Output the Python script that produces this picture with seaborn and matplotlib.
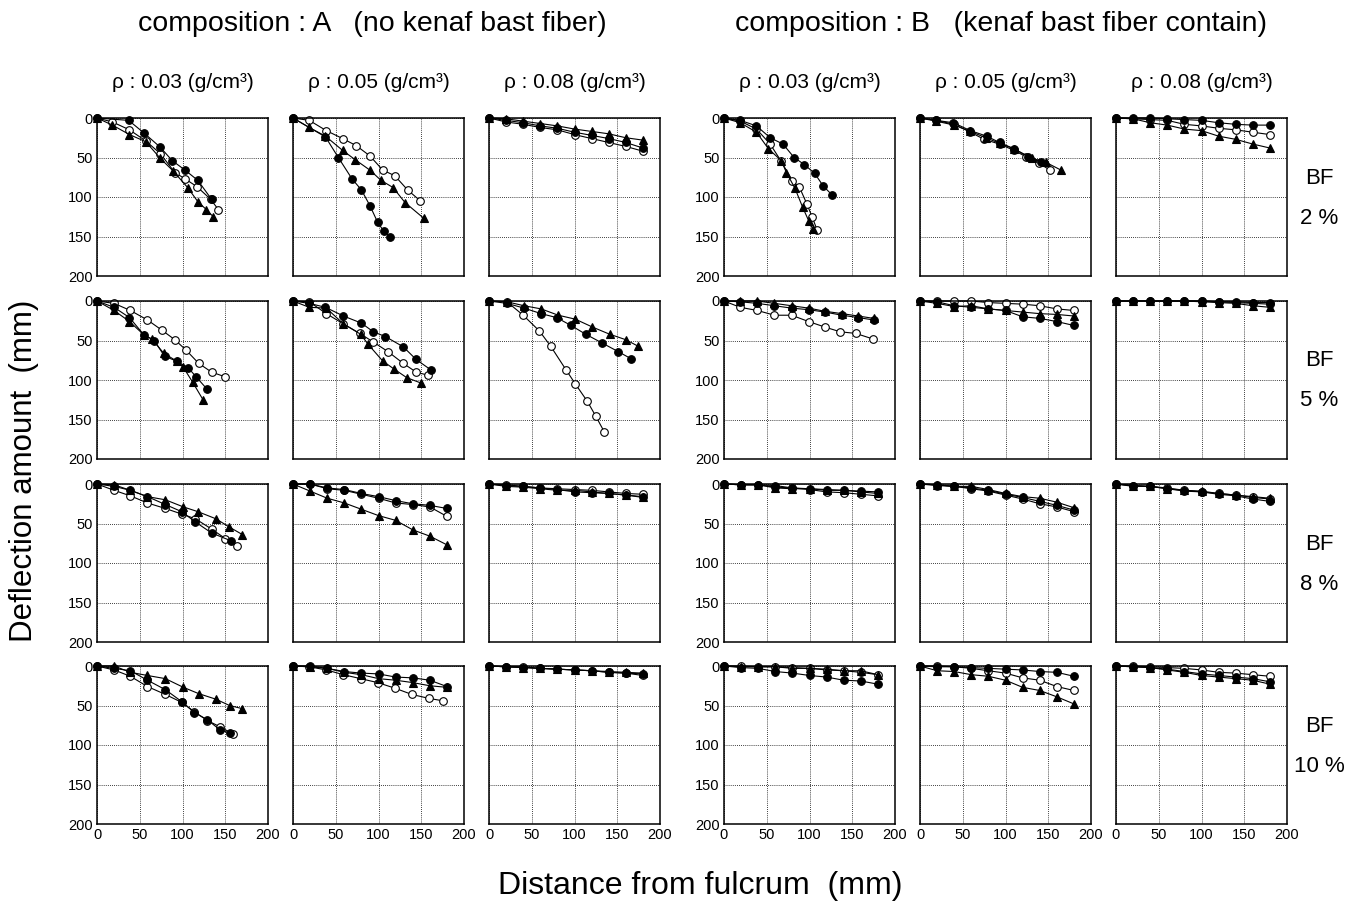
import numpy as np
import pandas as pd
import seaborn as sns
import matplotlib
matplotlib.use("Agg")
import matplotlib.pyplot as plt

# x positions used by most of the panels (mm from fulcrum)
x20 = [0, 20, 40, 60, 80, 100, 120, 140, 160, 180]

compositions = ["A", "B"]
densities = ["0.03", "0.05", "0.08"]
bf_levels = ["2 %", "5 %", "8 %", "10 %"]

# each panel: series -> (x, deflection)
A03_BF2 = {
    "open": ([0, 18, 38, 57, 74, 91, 103, 117, 133, 142], [0, 5, 15, 29, 45, 69, 77, 87, 103, 116]),
    "tri": ([0, 18, 38, 57, 74, 89, 106, 118, 128, 136], [0, 9, 21, 30, 51, 67, 88, 106, 116, 125]),
    "filled": ([0, 37, 55, 74, 88, 103, 118, 134], [0, 3, 19, 37, 54, 66, 79, 103]),
}
A05_BF2 = {
    "open": ([0, 19, 39, 58, 74, 90, 105, 119, 134, 149], [0, 3, 16, 26, 35, 48, 66, 73, 91, 105]),
    "tri": ([0, 19, 38, 58, 73, 90, 103, 117, 131, 153], [0, 12, 23, 41, 53, 66, 79, 88, 107, 127]),
    "filled": ([0, 38, 53, 69, 80, 90, 99, 106, 114], [0, 24, 50, 77, 91, 111, 132, 143, 151]),
}
A08_BF2 = {
    "open": (x20, [0, 5, 8, 12, 15, 21, 26, 31, 36, 42]),
    "tri": (x20, [0, 1, 4, 7, 10, 14, 17, 20, 25, 28]),
    "filled": (x20, [0, 3, 6, 10, 13, 18, 22, 26, 31, 38]),
}
B03_BF2 = {
    "open": ([0, 19, 38, 54, 67, 80, 88, 97, 103, 109], [0, 4, 14, 33, 55, 80, 87, 109, 125, 142]),
    "tri": ([0, 19, 38, 52, 67, 73, 83, 92, 99, 104], [0, 6, 18, 39, 54, 69, 89, 113, 130, 141]),
    "filled": ([0, 19, 38, 54, 69, 82, 94, 106, 116, 126], [0, 3, 10, 25, 33, 50, 59, 70, 86, 97]),
}
B05_BF2 = {
    "open": ([0, 19, 40, 59, 75, 93, 110, 124, 139, 152], [0, 3, 8, 18, 27, 33, 41, 49, 57, 66]),
    "tri": ([0, 19, 40, 59, 77, 93, 110, 131, 147, 165], [0, 4, 9, 17, 25, 32, 39, 51, 56, 66]),
    "filled": ([0, 19, 39, 59, 78, 93, 110, 126, 141], [0, 3, 6, 16, 23, 31, 39, 49, 56]),
}
B08_BF2 = {
    "open": (x20, [0, 1, 2, 3, 8, 10, 13, 15, 18, 21]),
    "tri": (x20, [0, 1, 6, 9, 14, 16, 23, 27, 33, 38]),
    "filled": (x20, [0, 0, 0, 1, 2, 3, 6, 8, 9, 9]),
}

A03_BF5 = {
    "open": ([0, 20, 39, 59, 76, 91, 104, 119, 134, 150], [0, 3, 12, 24, 37, 49, 62, 79, 90, 96]),
    "tri": ([0, 20, 38, 55, 64, 78, 93, 101, 112, 124], [0, 12, 26, 43, 48, 66, 76, 84, 103, 125]),
    "filled": ([0, 20, 38, 55, 67, 79, 93, 107, 116, 129], [0, 8, 21, 43, 50, 70, 76, 85, 96, 112]),
}
A05_BF5 = {
    "open": ([0, 19, 39, 59, 78, 94, 111, 129, 144, 158], [0, 1, 16, 29, 41, 52, 64, 79, 90, 94]),
    "tri": ([0, 19, 39, 59, 79, 88, 105, 118, 133, 150], [0, 8, 9, 29, 42, 55, 76, 86, 97, 104]),
    "filled": ([0, 19, 38, 59, 80, 94, 108, 129, 144, 161], [0, 3, 8, 19, 28, 39, 45, 58, 74, 87]),
}
A08_BF5 = {
    "open": ([0, 21, 40, 59, 72, 90, 101, 115, 125, 135], [0, 1, 18, 38, 57, 87, 105, 127, 146, 166]),
    "tri": ([0, 21, 41, 61, 81, 101, 121, 141, 160, 174], [0, 1, 6, 10, 18, 23, 33, 42, 49, 57]),
    "filled": ([0, 21, 41, 61, 79, 96, 113, 132, 151, 166], [0, 3, 9, 16, 21, 31, 42, 53, 64, 73]),
}
B03_BF5 = {
    "open": ([0, 19, 39, 59, 79, 99, 118, 136, 154, 174], [0, 8, 12, 18, 18, 26, 33, 39, 41, 48]),
    "tri": ([0, 19, 39, 59, 79, 99, 118, 138, 157, 175], [0, 0, 0, 3, 6, 9, 13, 16, 19, 22]),
    "filled": ([0, 19, 39, 59, 79, 99, 118, 138, 157, 175], [0, 1, 3, 6, 9, 11, 14, 18, 21, 24]),
}
B05_BF5 = {
    "open": (x20, [0, 0, 0, 0, 2, 3, 4, 6, 10, 12]),
    "tri": (x20, [0, 3, 7, 6, 10, 12, 14, 16, 17, 19]),
    "filled": (x20, [0, 1, 6, 8, 10, 12, 20, 22, 26, 31]),
}
B08_BF5 = {
    "open": (x20, [0, 0, 0, 0, 0, 0, 1, 2, 3, 4]),
    "tri": (x20, [0, 0, 0, 0, 0, 1, 2, 3, 6, 8]),
    "filled": (x20, [0, 0, 0, 0, 0, 0, 1, 1, 2, 2]),
}

A03_BF8 = {
    "open": ([0, 20, 39, 59, 80, 99, 115, 134, 150, 164], [0, 8, 15, 24, 31, 38, 44, 57, 69, 79]),
    "tri": ([0, 20, 39, 59, 80, 101, 118, 139, 154, 170], [0, 1, 8, 16, 20, 29, 35, 44, 54, 64]),
    "filled": ([0, 20, 39, 59, 80, 99, 115, 134, 157], [0, 3, 8, 16, 26, 35, 48, 62, 72]),
}
A05_BF8 = {
    "open": (x20, [0, 0, 6, 8, 13, 18, 24, 26, 29, 41]),
    "tri": (x20, [0, 9, 18, 24, 32, 40, 46, 58, 66, 77]),
    "filled": (x20, [0, 0, 5, 7, 12, 16, 21, 25, 27, 31]),
}
A08_BF8 = {
    "open": (x20, [0, 1, 3, 5, 6, 7, 8, 10, 12, 13]),
    "tri": (x20, [0, 3, 4, 6, 8, 8, 10, 12, 14, 16]),
    "filled": (x20, [0, 2, 3, 5, 7, 10, 11, 12, 14, 17]),
}
B03_BF8 = {
    "open": (x20, [0, 1, 1, 4, 5, 7, 10, 11, 13, 15]),
    "tri": (x20, [0, 1, 1, 5, 6, 6, 7, 8, 10, 12]),
    "filled": (x20, [0, 1, 1, 2, 5, 6, 8, 8, 9, 10]),
}
B05_BF8 = {
    "open": (x20, [0, 2, 3, 6, 9, 14, 19, 25, 29, 35]),
    "tri": (x20, [0, 1, 3, 3, 7, 12, 16, 18, 23, 30]),
    "filled": (x20, [0, 1, 3, 5, 8, 13, 17, 22, 27, 33]),
}
B08_BF8 = {
    "open": (x20, [0, 2, 3, 5, 8, 10, 12, 14, 17, 19]),
    "tri": (x20, [0, 3, 3, 6, 8, 9, 12, 14, 16, 18]),
    "filled": (x20, [0, 2, 3, 6, 9, 10, 13, 15, 19, 22]),
}

A03_BF10 = {
    "open": ([0, 20, 39, 59, 80, 99, 114, 129, 144, 159], [0, 5, 13, 26, 36, 46, 58, 69, 77, 86]),
    "tri": ([0, 20, 39, 59, 80, 101, 119, 139, 155, 170], [0, 0, 8, 12, 16, 27, 35, 42, 50, 54]),
    "filled": ([0, 20, 39, 59, 80, 99, 114, 129, 144, 156], [0, 3, 6, 18, 30, 45, 59, 68, 81, 85]),
}
A05_BF10 = {
    "open": ([0, 19, 39, 59, 79, 99, 119, 139, 159, 175], [0, 1, 5, 11, 16, 21, 28, 36, 41, 44]),
    "tri": (x20, [0, 1, 3, 8, 11, 16, 18, 21, 25, 27]),
    "filled": (x20, [0, 0, 3, 7, 9, 10, 14, 15, 18, 26]),
}
A08_BF10 = {
    "open": (x20, [0, 1, 1, 3, 4, 5, 6, 8, 9, 12]),
    "tri": (x20, [0, 1, 2, 3, 4, 5, 6, 7, 8, 9]),
    "filled": (x20, [0, 1, 2, 3, 4, 5, 6, 8, 9, 10]),
}
B03_BF10 = {
    "open": (x20, [0, 0, 1, 1, 2, 3, 5, 6, 8, 11]),
    "tri": (x20, [0, 1, 1, 1, 3, 3, 4, 6, 6, 11]),
    "filled": (x20, [0, 2, 3, 7, 9, 12, 14, 18, 19, 23]),
}
B05_BF10 = {
    "open": (x20, [0, 0, 1, 3, 6, 9, 15, 18, 26, 31]),
    "tri": (x20, [0, 6, 7, 11, 13, 18, 27, 31, 39, 48]),
    "filled": (x20, [0, 1, 1, 2, 3, 4, 5, 7, 8, 13]),
}
B08_BF10 = {
    "open": (x20, [0, 0, 1, 2, 3, 5, 8, 9, 11, 13]),
    "tri": (x20, [0, 1, 2, 5, 8, 12, 14, 16, 18, 23]),
    "filled": (x20, [0, 1, 2, 4, 7, 10, 12, 14, 16, 20]),
}

panels = [
    [A03_BF2, A05_BF2, A08_BF2, B03_BF2, B05_BF2, B08_BF2],
    [A03_BF5, A05_BF5, A08_BF5, B03_BF5, B05_BF5, B08_BF5],
    [A03_BF8, A05_BF8, A08_BF8, B03_BF8, B05_BF8, B08_BF8],
    [A03_BF10, A05_BF10, A08_BF10, B03_BF10, B05_BF10, B08_BF10],
]

marker_styles = {
    "open": dict(marker="o", markerfacecolor="white"),
    "tri": dict(marker="^", markerfacecolor="black"),
    "filled": dict(marker="o", markerfacecolor="black"),
}

sns.set_theme(style="white")
plt.rcParams["font.family"] = ["Liberation Sans", "DejaVu Sans"]
plt.rcParams["text.color"] = "black"
plt.rcParams["xtick.color"] = "black"
plt.rcParams["ytick.color"] = "black"

W, H = 1365, 915
fig = plt.figure(figsize=(W / 100, H / 100), dpi=100)

col_left = [97, 293, 489, 724, 920, 1116]
row_top = [118, 301, 484, 666]
ax_w, ax_h = 171, 158

for r in range(4):
    for c in range(6):
        ax = fig.add_axes([col_left[c] / W, 1 - (row_top[r] + ax_h) / H, ax_w / W, ax_h / H])
        for name in ["open", "tri", "filled"]:
            xs, ys = panels[r][c][name]
            df = pd.DataFrame({"x": xs, "y": ys})
            sns.lineplot(data=df, x="x", y="y", ax=ax, color="black", linewidth=0.8,
                         markersize=5.5, markeredgecolor="black", markeredgewidth=0.8,
                         sort=False, estimator=None, clip_on=False, **marker_styles[name])
        ax.set_xlim(0, 200)
        ax.set_ylim(200, 0)
        ax.set_xticks([0, 50, 100, 150, 200])
        ax.set_yticks([0, 50, 100, 150, 200])
        ax.grid(True, linestyle=(0, (1, 1.5)), color="black", linewidth=0.6)
        ax.tick_params(length=0, labelsize=10.5, pad=3)
        for s in ax.spines.values():
            s.set_color("black")
            s.set_linewidth(1.1)
        ax.set_xlabel("")
        ax.set_ylabel("")
        if r < 3:
            ax.set_xticklabels([])
        if c not in (0, 3):
            ax.set_yticklabels([])
        if r == 0:
            ax.text(0.5, 1 + 35 / ax_h, "\u03c1 : " + densities[c % 3] + " (g/cm\u00b3)",
                    transform=ax.transAxes, ha="center", va="center", fontsize=15)
    yc = row_top[r] + ax_h / 2
    fig.text(1319 / W, 1 - (yc - 19) / H, "BF", ha="center", va="center", fontsize=16)
    fig.text(1319 / W, 1 - (yc + 21) / H, bf_levels[r], ha="center", va="center", fontsize=16)

fig.text(372 / W, 1 - 24 / H, "composition : A   (no kenaf bast fiber)",
         ha="center", va="center", fontsize=20.5)
fig.text(1001 / W, 1 - 24 / H, "composition : B   (kenaf bast fiber contain)",
         ha="center", va="center", fontsize=20.5)
fig.text(24 / W, 1 - 471 / H, "Deflection amount  (mm)", rotation=90,
         ha="center", va="center", fontsize=22.5)
fig.text(700 / W, 1 - 886 / H, "Distance from fulcrum  (mm)",
         ha="center", va="center", fontsize=23)

fig.savefig("out.png", dpi=100)
